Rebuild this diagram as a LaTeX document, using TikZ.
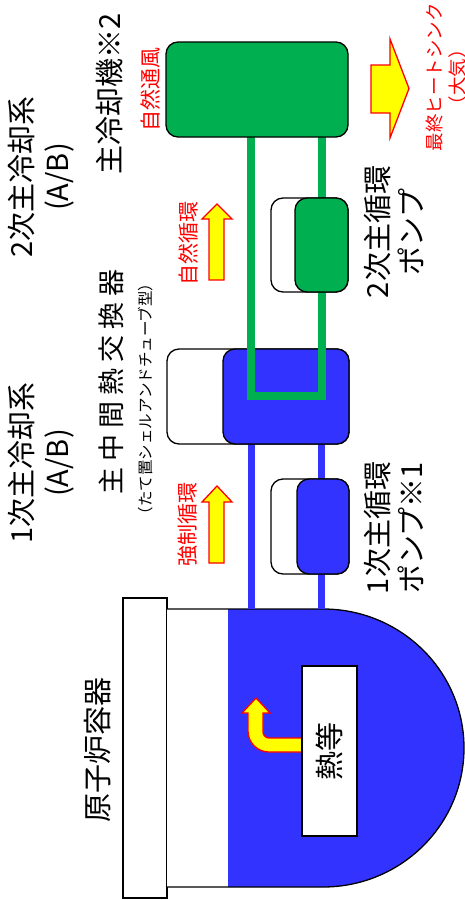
\documentclass[tikz,border=0pt]{standalone}
\usepackage{fontspec}
\setmainfont{Noto Sans CJK JP}
\definecolor{vblue}{HTML}{3333FF}
\definecolor{vgreen}{HTML}{00B050}
\definecolor{vred}{HTML}{FF0000}
\definecolor{vyellow}{HTML}{FFFF00}
\newcommand{\ks}{\kern6pt}
\begin{document}
\begin{tikzpicture}[x=1pt,y=-1pt,
  lbl/.style={rotate=90, inner sep=0pt, align=center, font=\fontsize{29}{36}\selectfont},
  rlbl/.style={rotate=90, inner sep=0pt, align=center, text=vred, font=\fontsize{21}{25}\selectfont},
  box/.style={draw=black, line width=1.3pt, rounded corners=12pt},
  bluepipe/.style={draw=vblue, line width=7pt},
  greenpipe/.style={draw=vgreen, line width=8pt, line join=miter},
  flow/.style={fill=vyellow, draw=vred, line width=1.3pt, line join=miter}
]
\useasboundingbox (0,0) rectangle (465,900);
\clip (0,0) rectangle (465,900);

% reactor vessel
\draw[fill=white, line width=1.3pt] (123,598) rectangle (167,898);
\fill[white] (167,609) -- (323,609) arc[start angle=-90, end angle=90, x radius=141, y radius=139] -- (167,887) -- cycle;
\fill[vblue] (228,609) -- (323,609) arc[start angle=-90, end angle=90, x radius=141, y radius=139] -- (228,887) -- cycle;
\draw[line width=1.3pt] (167,609) -- (323,609) arc[start angle=-90, end angle=90, x radius=141, y radius=139] -- (167,887);

% heat arrow
\draw[flow] (304,738) -- (269,738) .. controls (265.7,738) and (263,735.3) .. (263,732) -- (263,713) -- (270,713) -- (256,698) -- (242,713) -- (248,713) -- (248,731) .. controls (248,742.6) and (257.4,752) .. (269,752) -- (304,752) -- cycle;
\node[draw, fill=white, line width=1.3pt, minimum width=55pt, minimum height=170pt, inner sep=0pt] (core) at (329.5,751) {};
\node[lbl] (corelbl) at (core.center) {熱等};

% primary pipes
\coordinate (vL) at (251,609);
\coordinate (vR) at (321,609);
\coordinate (iL) at (251,440);
\coordinate (iR) at (321,440);
\draw[bluepipe] (vL) -- (iL);
\draw[bluepipe] (vR) -- (iR);

% primary pump
\draw[box, fill=white] (271,479) rectangle (349,574);
\draw[box, fill=vblue] (297,479) rectangle (349,574);

% IHX
\draw[box, fill=white] (167,349) rectangle (349,444);
\draw[box, fill=vblue] (223,349) rectangle (349,444);

% secondary loop
\coordinate (cL) at (251,120);
\coordinate (cR) at (322,120);
\draw[greenpipe] (cL) -- (251,395.5) -- (322,395.5) -- (cR);

% secondary pump
\draw[box, fill=white] (271,198) rectangle (348,292);
\draw[box, fill=vgreen] (295,198) rectangle (348,292);

% main cooler
\draw[box, fill=vgreen] (166,42) rectangle (348,137);

% flow arrows
\draw[flow] (371,65) -- (390,65) -- (390,39) -- (409,88.5) -- (390,138) -- (390,113) -- (371,113) -- cycle;
\draw[flow] (209,280) -- (209,219) -- (202,219) -- (217,204) -- (232,219) -- (224,219) -- (224,280) -- cycle;
\draw[flow] (209,563) -- (209,502) -- (202,502) -- (217,486) -- (232,502) -- (224,502) -- (224,563) -- cycle;

% labels
\node[lbl] (sys2) at (41,177) {2次主冷却系\\(A/B)};
\node[lbl] (sys1) at (41,463) {1次主冷却系\\(A/B)};
\node[lbl] (coolerlbl) at (110,94) {主冷却機※2};
\node[lbl, font=\fontsize{27}{32}\selectfont] (ihxlbl) at (111,382) {主\ks 中\ks 間\ks 熱\ks 交\ks 換\ks 器};
\node[rotate=90, inner sep=0pt, font=\fontsize{15.5}{18}\selectfont] (ihxsub) at (146,399) {（たて置シェルアンドチューブ型）};
\node[rlbl] (natair) at (150,89) {自然通風};
\node[rlbl] (natcirc) at (188,243) {自然循環};
\node[rlbl] (forcirc) at (188,524) {強制循環};
\node[lbl, font=\fontsize{29}{34}\selectfont] (pump2) at (394,232) {2次主循環\\ポンプ};
\node[lbl, font=\fontsize{29}{34}\selectfont] (pump1) at (394,528) {1次主循環\\ポンプ※1};
\node[rlbl, font=\fontsize{18.5}{23}\selectfont] (sink) at (446.5,77) {最終ヒートシンク\\（大気）};
\node[lbl] (vessel) at (98,750) {原子炉容器};
\end{tikzpicture}
\end{document}
